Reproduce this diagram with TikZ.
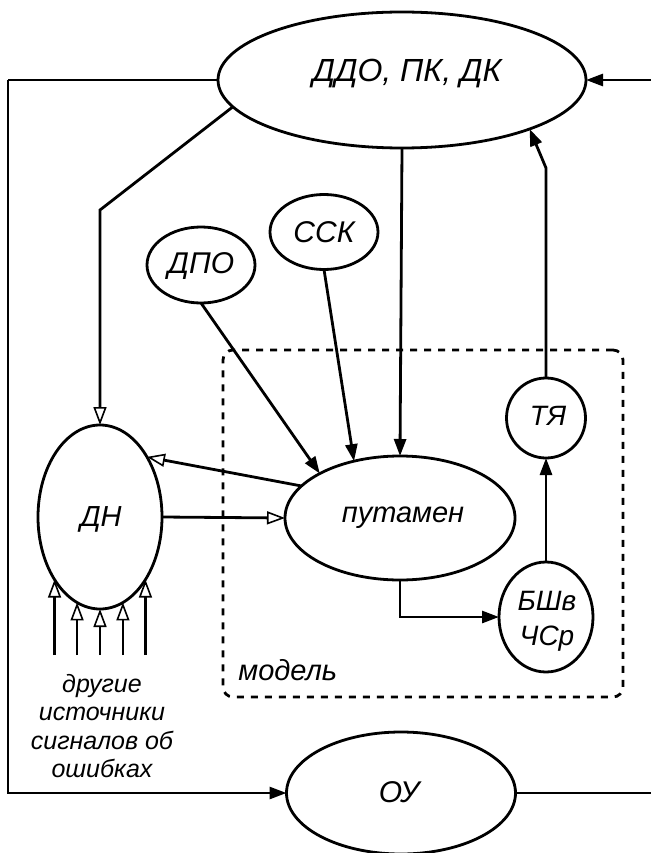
\documentclass[tikz,border=0pt]{standalone}
\usepackage{fontspec}
\setmainfont{Liberation Sans}
\usetikzlibrary{shapes.geometric,arrows.meta}
\begin{document}
\begin{tikzpicture}[x=1pt,y=-1pt,
  line width=2.8pt,
  ell/.style={draw, ellipse, inner sep=0pt, outer sep=0pt},
  lbl/.style={font=\fontsize{30}{34}\selectfont\itshape, inner sep=0pt},
  mid/.style={font=\fontsize{28}{35}\selectfont\itshape, inner sep=0pt, align=center},
  sml/.style={font=\fontsize{25}{28.5}\selectfont\itshape, inner sep=0pt, align=center},
  farr/.style={-{Triangle[length=17pt,width=12pt]}},
  oarr/.style={-{Triangle[open,length=18pt,width=13pt,line width=1.6pt]}},
  modelbox/.style={draw, dash pattern=on 7pt off 7pt, rounded corners=10pt, inner sep=0pt},
]
\useasboundingbox (0,0) rectangle (650,853);

% ellipses
\node[ell, minimum width=368pt, minimum height=136pt] (ddo) at (402,80) {};
\node[lbl, font=\fontsize{32}{36}\selectfont\itshape] (ddot) at (407,74) {ДДО, ПК, ДК};
\node[ell, minimum width=108pt, minimum height=76pt] (dpo) at (201,265) {};
\node[lbl] (dpot) at (201,266) {ДПО};
\node[ell, minimum width=108pt, minimum height=75pt] (ssk) at (324,232) {};
\node[lbl] (sskt) at (324,232) {ССК};
\node[ell, minimum width=124pt, minimum height=184pt] (dn) at (100,517) {};
\node[lbl, font=\fontsize{29}{34}\selectfont\itshape] (dnt) at (101,519) {ДН};
\node[ell, minimum width=230pt, minimum height=124pt] (put) at (400,518) {};
\node[lbl, font=\fontsize{29}{34}\selectfont\itshape] (putt) at (403,518) {путамен};
\node[ell, minimum width=79pt, minimum height=80pt] (tya) at (546,418) {};
\node[lbl, font=\fontsize{28}{34}\selectfont\itshape] (tyat) at (548,416) {ТЯ};
\node[ell, minimum width=94pt, minimum height=110pt] (bsh) at (546,617) {};
\node[mid] (bsht) at (547,621) {БШв\\ЧСр};
\node[ell, minimum width=229pt, minimum height=122pt] (ou) at (401,793) {};
\node[lbl] (out) at (399,792) {ОУ};

% model box
\node[modelbox, minimum width=400pt, minimum height=347pt] (model) at (423,523.5) {};
\node[lbl, font=\fontsize{29}{34}\selectfont\itshape, anchor=base west] (modelt) at (237,680) {модель};

% other sources text
\node[sml] (srct) at (102,726) {другие\\источники\\сигналов об\\ошибках};

% coordinates
\coordinate (lt) at (8,80);
\coordinate (rt) at (652,80);
\coordinate (rb) at (652,793);
\coordinate (bend) at (100,210);
\coordinate (tyabend) at (546,168);
\coordinate (base) at (0,655);

% connectors
\draw (ddo.west) -- (lt);
\draw[farr] (lt) |- (ou.west);
\draw[farr] (rt) -- (ddo.east);
\draw (ou.east) -- (rb);
\draw[oarr] (ddo.189) -- (bend) -- (dn.north);
\draw[farr] (ddo.south) -- (put.north);
\draw[farr] (tya.north) -- (tyabend) -- (ddo.-21);
\draw[farr] (dpo.south) -- (put.151);
\draw[farr] (ssk.south) -- (put.129);
\draw[oarr] (put.162.5) -- (dn.52);
\draw[oarr] (dn.east) -- (put.west);
\draw[farr] (put.south) |- (bsh.west);
\draw[farr] (bsh.north) -- (tya.south);

% other error sources
\draw[oarr] (dn.234 |- base) -- (dn.234);
\draw[oarr] (dn.255 |- base) -- (dn.255);
\draw[oarr] (dn.270 |- base) -- (dn.270);
\draw[oarr] (dn.285 |- base) -- (dn.285);
\draw[oarr] (dn.306 |- base) -- (dn.306);
\end{tikzpicture}
\end{document}
